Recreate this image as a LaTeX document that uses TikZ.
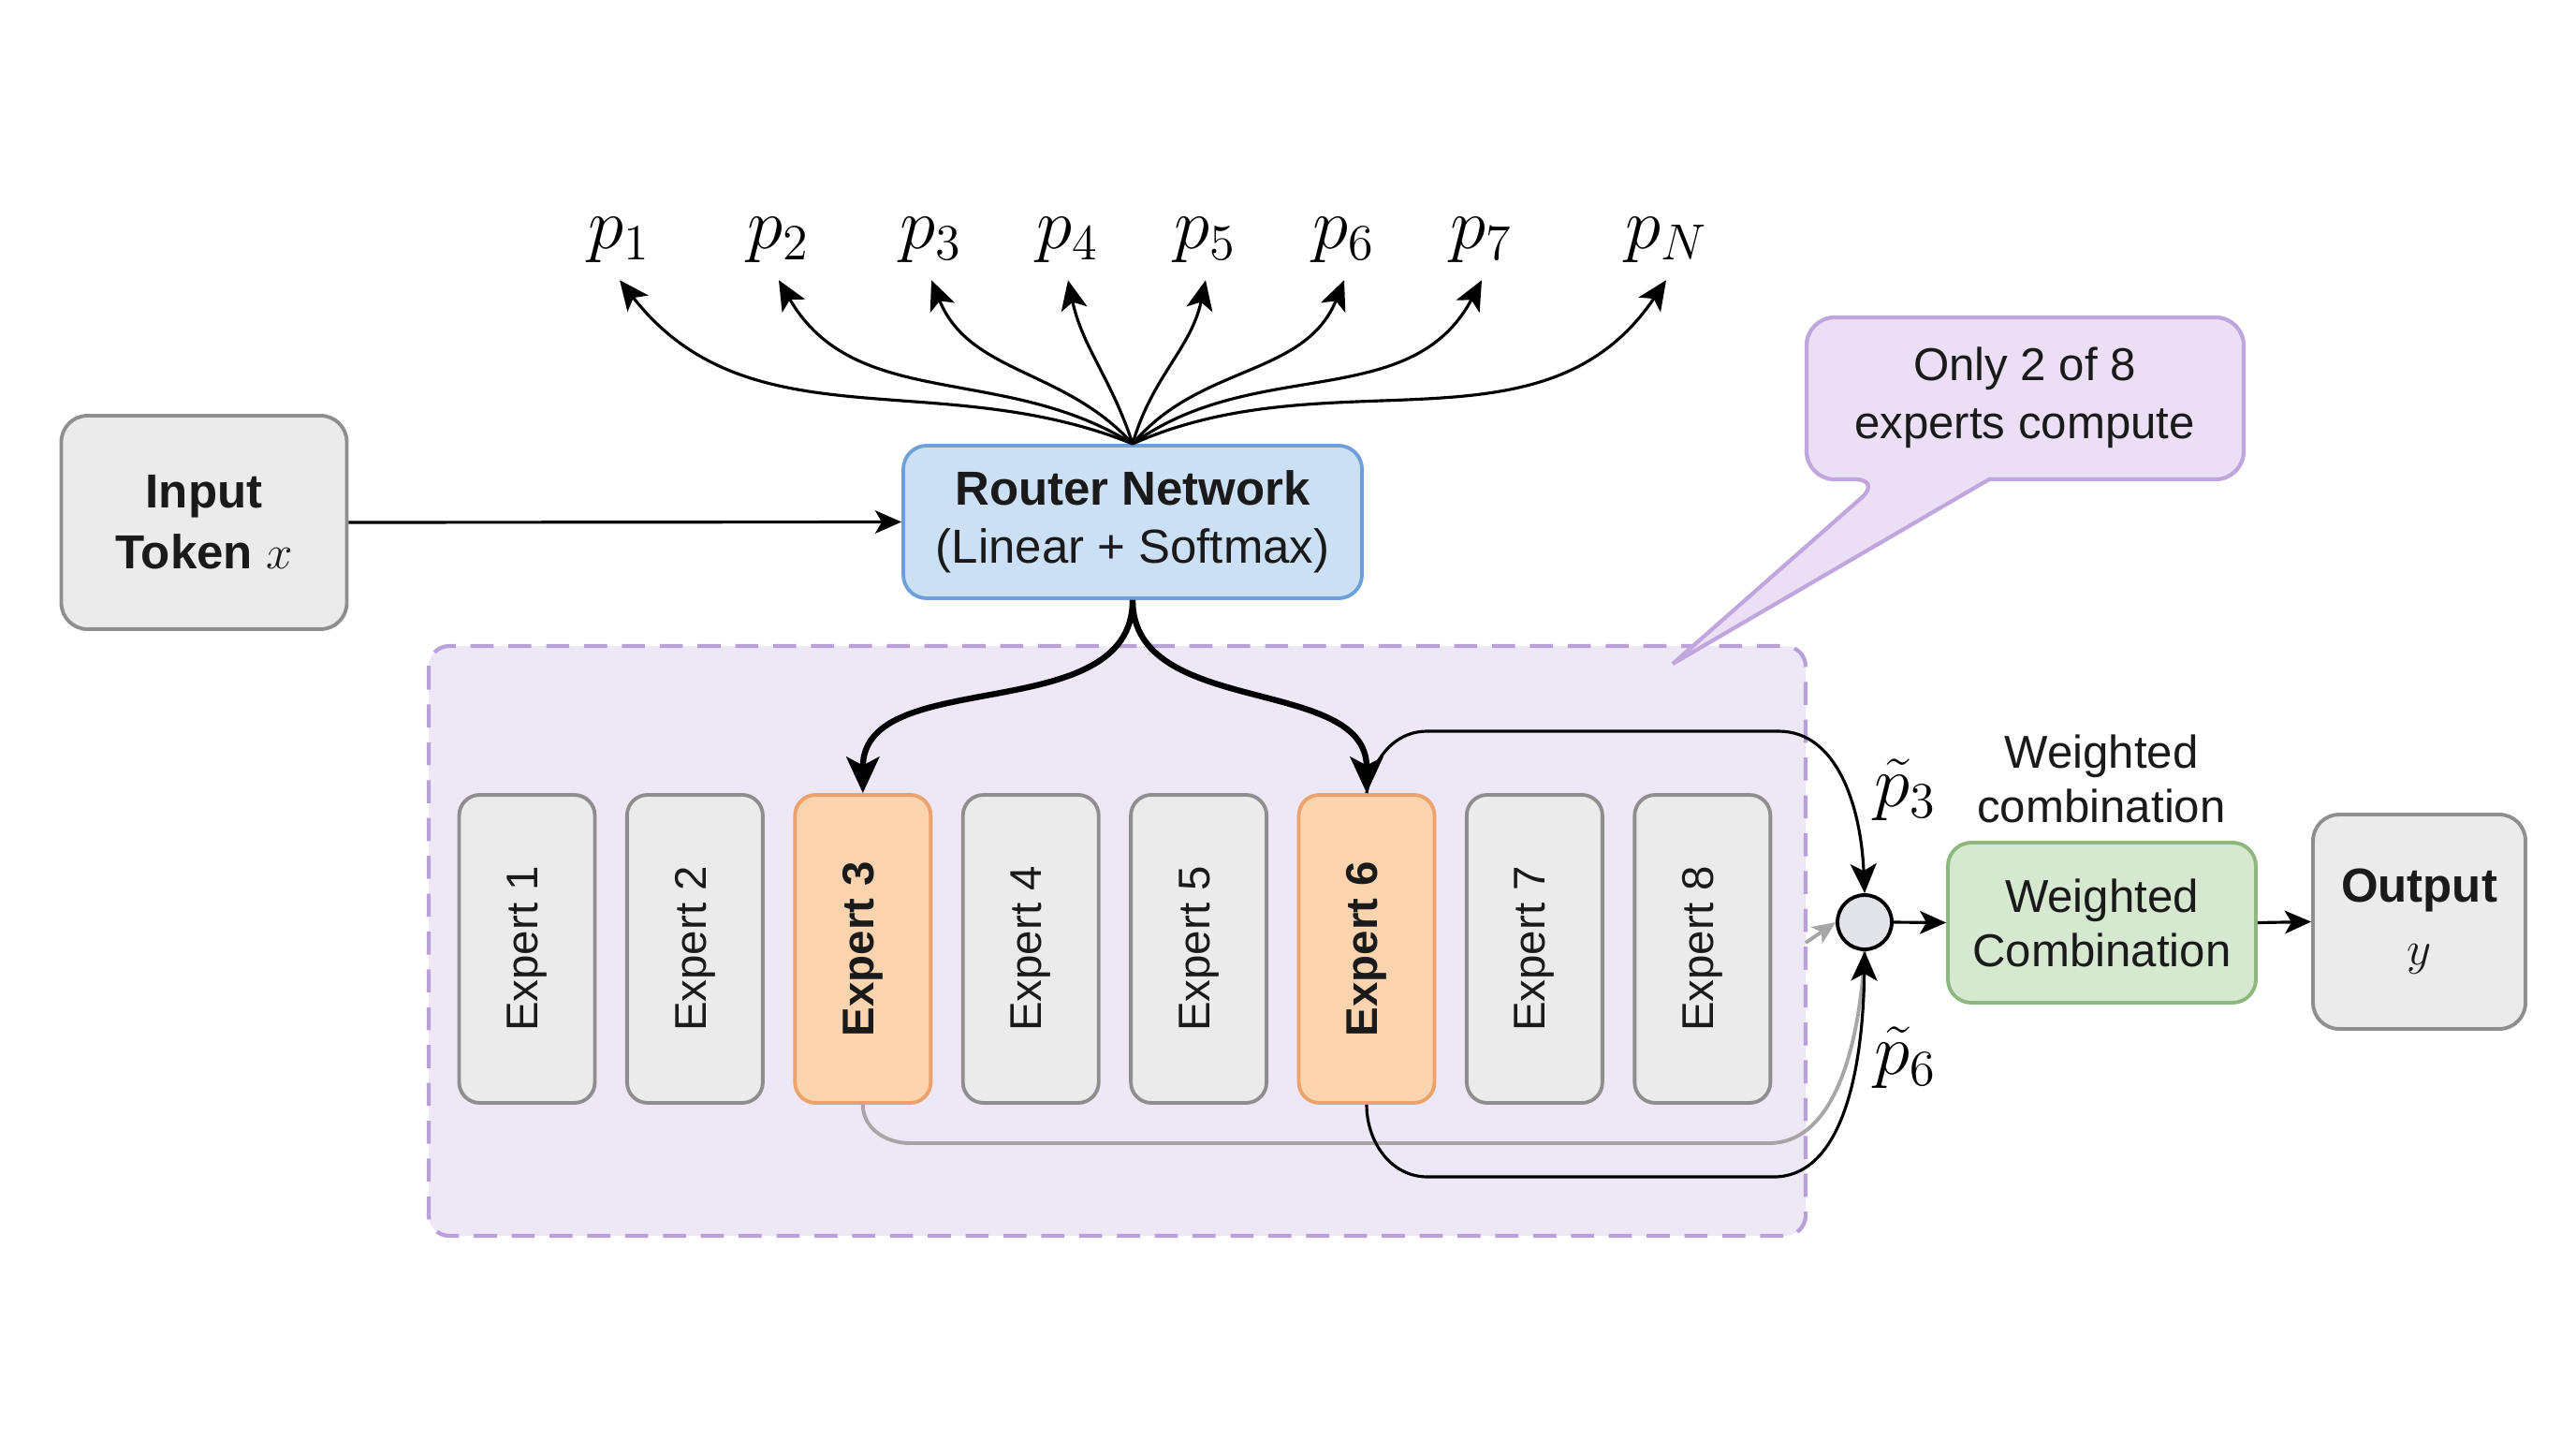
\RequirePackage{fix-cm}
\documentclass[tikz,border=0pt]{standalone}
\usepackage[no-math]{fontspec}
\setmainfont{Liberation Sans}
\usetikzlibrary{arrows.meta,calc}
\definecolor{boxfill}{HTML}{EBEBEB}
\definecolor{boxdraw}{HTML}{8E8E8E}
\definecolor{routerfill}{HTML}{CCE0F5}
\definecolor{routerdraw}{HTML}{6F9FD8}
\definecolor{orangefill}{HTML}{F9D4AF}
\definecolor{orangedraw}{HTML}{EBA26B}
\definecolor{contfill}{HTML}{EEE7F6}
\definecolor{contdraw}{HTML}{B8A0D8}
\definecolor{callfill}{HTML}{EADFF5}
\definecolor{calldraw}{HTML}{BFA6DC}
\definecolor{wcfill}{HTML}{D6E8CF}
\definecolor{wcdraw}{HTML}{8DB87D}
\definecolor{circfill}{HTML}{E3E3EA}
\definecolor{loopgray}{HTML}{A6A6A6}
\definecolor{txt}{HTML}{1A1A1A}
\begin{document}
\begin{tikzpicture}[x=1cm,y=1cm,
  txtfont/.style={font=\fontsize{14}{17.5}\selectfont},
  box/.style={draw=boxdraw, fill=boxfill, line width=1.1pt, rounded corners=0.28cm,
    align=center, inner sep=2pt, text=txt, txtfont},
  expert/.style={box, minimum width=1.45cm, minimum height=3.29cm, rounded corners=0.22cm,
    font=\fontsize{13.5}{16}\selectfont},
  hexpert/.style={expert, draw=orangedraw, fill=orangefill, font=\fontsize{13.5}{16}\selectfont\bfseries},
  plabel/.style={inner sep=0.18cm, font=\fontsize{22}{26}\selectfont},
  arr/.style={-{Stealth[length=9pt,width=8pt,inset=2.2pt]}, line width=0.9pt},
  thinarr/.style={-{Stealth[length=8pt,width=7pt,inset=2pt]}, line width=0.9pt},
  thickarr/.style={-{Stealth[length=11pt,width=10pt,inset=2.6pt]}, line width=1.8pt},
]
\useasboundingbox (0,0) rectangle (27.52,-15.36);
\fill[white] (0,0) rectangle (27.52,-15.36);

% expert container
\draw[draw=contdraw, fill=contfill, line width=1.2pt, dash pattern=on 7pt off 4.5pt,
  rounded corners=0.22cm] (4.58,-6.90) rectangle (19.29,-13.20);

% callout
\filldraw[draw=calldraw, fill=callfill, line width=1.2pt, rounded corners=0.3cm]
  (21.25,-5.12) -- (23.97,-5.12) -- (23.97,-3.39) -- (19.30,-3.39) -- (19.30,-5.12)
  -- (20.11,-5.12) [sharp corners] -- (17.87,-7.09) -- cycle;
\node[align=center, text=txt, txtfont] (callout) at (21.63,-4.25) {Only 2 of 8\\experts compute};

% main boxes
\node[box, minimum width=3.05cm, minimum height=2.28cm, font=\fontsize{14.5}{18.5}\selectfont\bfseries]
  (in) at (2.18,-5.58) {Input\\Token $x$};
\node[box, draw=routerdraw, fill=routerfill, minimum width=4.90cm, minimum height=1.63cm,
  rounded corners=0.25cm, font=\fontsize{14.5}{17.5}\selectfont]
  (router) at (12.10,-5.575) {\textbf{Router Network}\\(Linear + Softmax)};

% experts
\node[expert]  (e1) at (5.630,-10.135) {\rotatebox{90}{Expert 1}};
\node[expert]  (e2) at (7.424,-10.135) {\rotatebox{90}{Expert 2}};
\node[hexpert] (e3) at (9.218,-10.135) {\rotatebox{90}{Expert 3}};
\node[expert]  (e4) at (11.012,-10.135) {\rotatebox{90}{Expert 4}};
\node[expert]  (e5) at (12.806,-10.135) {\rotatebox{90}{Expert 5}};
\node[hexpert] (e6) at (14.600,-10.135) {\rotatebox{90}{Expert 6}};
\node[expert]  (e7) at (16.394,-10.135) {\rotatebox{90}{Expert 7}};
\node[expert]  (e8) at (18.188,-10.135) {\rotatebox{90}{Expert 8}};

% combination
\node[circle, draw=black, fill=circfill, line width=1.1pt, minimum size=0.58cm, inner sep=0pt]
  (circ) at (19.92,-9.85) {};
\node[box, draw=wcdraw, fill=wcfill, minimum width=3.29cm, minimum height=1.71cm,
  rounded corners=0.25cm, font=\fontsize{14}{16.5}\selectfont]
  (wc) at (22.455,-9.855) {Weighted\\Combination};
\node[align=center, text=txt, font=\fontsize{14}{16.5}\selectfont]
  (wclabel) at (22.45,-8.32) {Weighted\\combination};
\node[box, minimum width=2.27cm, minimum height=2.29cm, font=\fontsize{14.5}{19}\selectfont]
  (out) at (25.845,-9.845) {\textbf{Output}\\$y$};

% probability labels
\node[plabel, anchor=base] (p1) at (6.62,-2.655) {$p_1$};
\node[plabel, anchor=base] (p2) at (8.32,-2.655) {$p_2$};
\node[plabel, anchor=base] (p3) at (9.95,-2.655) {$p_3$};
\node[plabel, anchor=base] (p4) at (11.41,-2.655) {$p_4$};
\node[plabel, anchor=base] (p5) at (12.88,-2.655) {$p_5$};
\node[plabel, anchor=base] (p6) at (14.36,-2.655) {$p_6$};
\node[plabel, anchor=base] (p7) at (15.83,-2.655) {$p_7$};
\node[plabel, anchor=base] (pN) at (17.80,-2.655) {$p_N$};

\node[font=\fontsize{22}{26}\selectfont, inner sep=1pt] (pt3) at (20.36,-8.44) {$\tilde{p}_3$};
\node[font=\fontsize{22}{26}\selectfont, inner sep=1pt] (pt6) at (20.36,-11.30) {$\tilde{p}_6$};

% router fan-out
\coordinate (rt) at (router.north);
\draw[arr] (rt) to[out=158,in=-52] (p1.south);
\draw[arr] (rt) to[out=148,in=-60] (p2.south);
\draw[arr] (rt) to[out=132,in=-68] (p3.south);
\draw[arr] (rt) to[out=108,in=-78] (p4.south);
\draw[arr] (rt) to[out=74,in=-102] (p5.south);
\draw[arr] (rt) to[out=50,in=-112] (p6.south);
\draw[arr] (rt) to[out=36,in=-118] (p7.south);
\draw[arr] (rt) to[out=24,in=-124] (pN.south);

% input to router
\draw[thinarr] (in.east) -- (router.west);

% router to chosen experts
\draw[thickarr] (router.south) to[out=-90,in=90] (e3.north);
\draw[thickarr] (router.south) to[out=-90,in=90] (e6.north);

% expert outputs to combination
\draw[loopgray, line width=1.1pt] (e3.south) to[out=-90,in=180] (9.72,-12.21)
  -- (18.90,-12.21) .. controls (19.55,-12.21) and (19.86,-11.3) .. (circ.south);
\coordinate (stub) at (19.29,-10.07);
\draw[loopgray, line width=1.1pt, -{Stealth[length=7pt,width=6pt,inset=1.8pt]}] (stub) -- (circ.west);
\draw[arr] (e6.south) to[out=-90,in=180] (15.25,-12.57)
  -- (18.95,-12.57) .. controls (19.62,-12.57) and (19.90,-11.6) .. (circ.south);
\draw[arr] (e6.north) to[out=80,in=180] (15.25,-7.81)
  -- (19.00,-7.81) .. controls (19.62,-7.81) and (19.88,-8.6) .. (circ.north);

% combination to output
\draw[thinarr] (circ.east) -- (wc.west);
\draw[thinarr] (wc.east) -- (out.west);
\end{tikzpicture}
\end{document}
